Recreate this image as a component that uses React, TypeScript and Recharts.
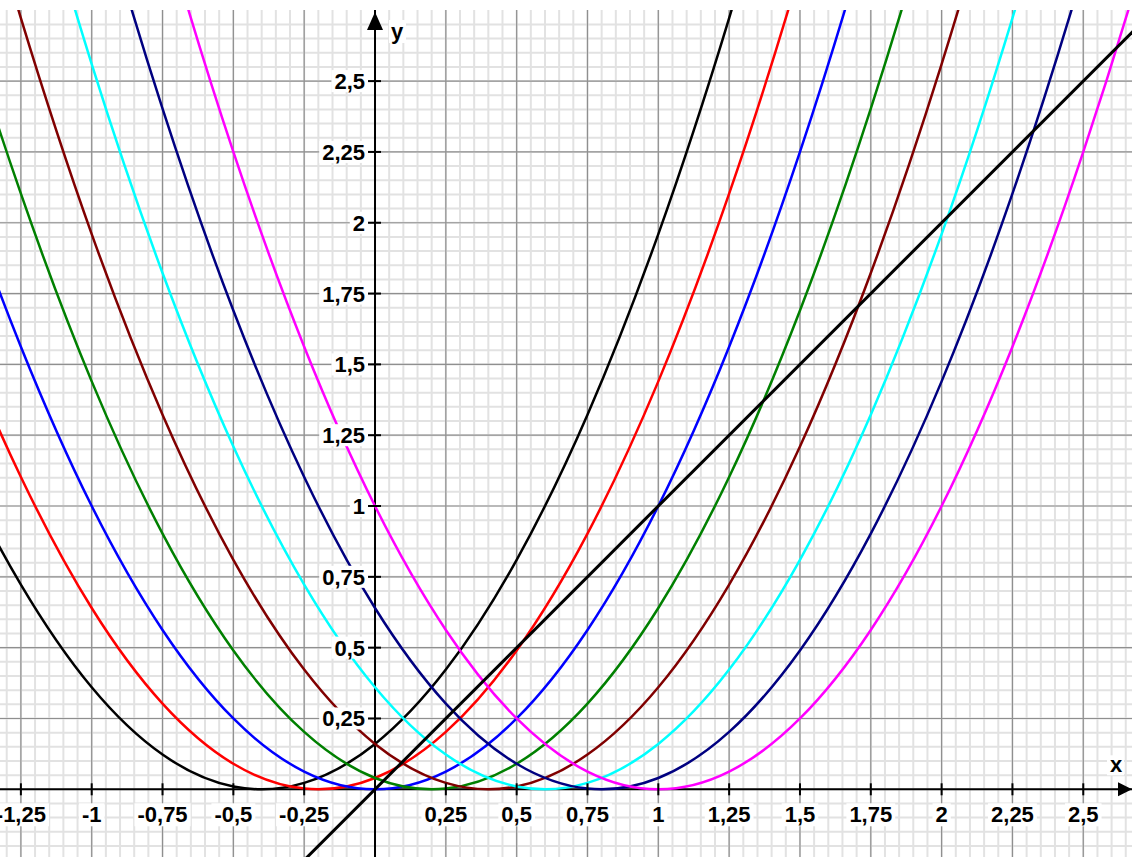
import React from "react";
import { LineChart, Line, XAxis, YAxis, ReferenceLine, ReferenceDot } from "recharts";

// sample positions shared by every parabola
const xs = [-1.75, -1.5, -1.25, -1, -0.75, -0.5, -0.25, 0, 0.25, 0.5, 0.75, 1, 1.25, 1.5, 1.75, 2, 2.25, 2.5, 2.75, 3];

const blackCurve = [1.8225, 1.21, 0.7225, 0.36, 0.1225, 0.01, 0.0225, 0.16, 0.4225, 0.81, 1.3225, 1.96, 2.7225, 3.61, 4.6225, 5.76, 7.0225, 8.41, 9.9225, 11.56];
const redCurve = [2.4025, 1.69, 1.1025, 0.64, 0.3025, 0.09, 0.0025, 0.04, 0.2025, 0.49, 0.9025, 1.44, 2.1025, 2.89, 3.8025, 4.84, 6.0025, 7.29, 8.7025, 10.24];
const blueCurve = [3.0625, 2.25, 1.5625, 1, 0.5625, 0.25, 0.0625, 0, 0.0625, 0.25, 0.5625, 1, 1.5625, 2.25, 3.0625, 4, 5.0625, 6.25, 7.5625, 9];
const greenCurve = [3.8025, 2.89, 2.1025, 1.44, 0.9025, 0.49, 0.2025, 0.04, 0.0025, 0.09, 0.3025, 0.64, 1.1025, 1.69, 2.4025, 3.24, 4.2025, 5.29, 6.5025, 7.84];
const brownCurve = [4.6225, 3.61, 2.7225, 1.96, 1.3225, 0.81, 0.4225, 0.16, 0.0225, 0.01, 0.1225, 0.36, 0.7225, 1.21, 1.8225, 2.56, 3.4225, 4.41, 5.5225, 6.76];
const cyanCurve = [5.5225, 4.41, 3.4225, 2.56, 1.8225, 1.21, 0.7225, 0.36, 0.1225, 0.01, 0.0225, 0.16, 0.4225, 0.81, 1.3225, 1.96, 2.7225, 3.61, 4.6225, 5.76];
const navyCurve = [6.5025, 5.29, 4.2025, 3.24, 2.4025, 1.69, 1.1025, 0.64, 0.3025, 0.09, 0.0025, 0.04, 0.2025, 0.49, 0.9025, 1.44, 2.1025, 2.89, 3.8025, 4.84];
const magentaCurve = [7.5625, 6.25, 5.0625, 4, 3.0625, 2.25, 1.5625, 1, 0.5625, 0.25, 0.0625, 0, 0.0625, 0.25, 0.5625, 1, 1.5625, 2.25, 3.0625, 4];

// the straight line y = x
const diagX = [-0.5, 3];
const diagY = [-0.5, 3];

const xTicks = [-1.25, -1, -0.75, -0.5, -0.25, 0.25, 0.5, 0.75, 1, 1.25, 1.5, 1.75, 2, 2.25, 2.5];
const yTicks = [0.25, 0.5, 0.75, 1, 1.25, 1.5, 1.75, 2, 2.25, 2.5];

const X_DOMAIN = [-1.3237, 2.672];
const Y_DOMAIN = [-0.239, 2.751];

const series = [
  { name: "a1", color: "#000000", ys: blackCurve },
  { name: "a2", color: "#ff0000", ys: redCurve },
  { name: "a3", color: "#0000ff", ys: blueCurve },
  { name: "a4", color: "#008000", ys: greenCurve },
  { name: "a5", color: "#800000", ys: brownCurve },
  { name: "a6", color: "#00ffff", ys: cyanCurve },
  { name: "a7", color: "#000080", ys: navyCurve },
  { name: "a8", color: "#ff00ff", ys: magentaCurve },
];

const stepValues = (from: number, to: number, step: number) => {
  const out: number[] = [];
  for (let i = Math.round(from / step); i <= Math.round(to / step); i++) out.push(Math.round(i * step * 100) / 100);
  return out;
};
const minorX = stepValues(-1.3, 2.65, 0.05);
const minorY = stepValues(-0.2, 2.7, 0.05);
const majorX = stepValues(-1.25, 2.5, 0.25).filter(v => v !== 0);
const majorY = stepValues(-0.25, 2.5, 0.25).filter(v => v !== 0);

const FONT = "'Liberation Sans', Arial, sans-serif";
const FS = 22;
const fmt = (v: number) => String(v).replace(".", ",");
const textWidth = (s: string) =>
  s.split("").reduce((w, c) => w + (c === "," ? 0.278 : c === "-" ? 0.333 : 0.556), 0) * FS;

function XTickLabel(props: any) {
  const { cx, cy, value } = props;
  const s = fmt(value);
  const w = textWidth(s);
  return (
    <g>
      <line x1={cx} x2={cx} y1={cy - 6} y2={cy + 6} stroke="#000" strokeWidth={2} />
      <rect x={cx - w / 2 - 3} y={cy + 14} width={w + 6} height={23} fill="#fff" />
      <text x={cx} y={cy + 33} textAnchor="middle" fontFamily={FONT} fontWeight="bold" fontSize={FS} fill="#000">{s}</text>
    </g>
  );
}

function YTickLabel(props: any) {
  const { cx, cy, value } = props;
  const s = fmt(value);
  const w = textWidth(s);
  return (
    <g>
      <line x1={cx - 7} x2={cx + 6} y1={cy} y2={cy} stroke="#000" strokeWidth={2} />
      <rect x={cx - 10 - w - 3} y={cy - 11} width={w + 6} height={22} fill="#fff" />
      <text x={cx - 10} y={cy + 8} textAnchor="end" fontFamily={FONT} fontWeight="bold" fontSize={FS} fill="#000">{s}</text>
    </g>
  );
}

function XArrow(props: any) {
  const { cx, cy } = props;
  return (
    <g>
      <polygon points={`${cx},${cy} ${cx - 14},${cy - 7} ${cx - 14},${cy + 7}`} fill="#000" />
      <rect x={cx - 25} y={cy - 34} width={17} height={20} fill="#fff" />
      <text x={cx - 16} y={cy - 17} textAnchor="middle" fontFamily={FONT} fontWeight="bold" fontSize={FS} fill="#000">x</text>
    </g>
  );
}

function YArrow(props: any) {
  const { cx, cy } = props;
  const tip = cy + 2;
  return (
    <g>
      <polygon points={`${cx},${tip} ${cx - 8},${tip + 18} ${cx + 8},${tip + 18}`} fill="#000" />
      <rect x={cx + 14} y={tip + 8} width={17} height={23} fill="#fff" />
      <text x={cx + 22} y={tip + 27} textAnchor="middle" fontFamily={FONT} fontWeight="bold" fontSize={FS} fill="#000">y</text>
    </g>
  );
}

export default function App() {
  const curveData = series.map(s => ({ ...s, data: xs.map((x, i) => ({ x, y: s.ys[i] })) }));
  const diagData = diagX.map((x, i) => ({ x, y: diagY[i] }));

  return (
    <div style={{ position: "absolute", left: 0, top: 0, width: 1132, height: 857, background: "#fff", overflow: "hidden" }}>
      <LineChart width={1132} height={857} margin={{ top: 10, right: 0, bottom: 0, left: 0 }}>
        <XAxis type="number" dataKey="x" domain={X_DOMAIN} allowDataOverflow hide />
        <YAxis type="number" dataKey="y" domain={Y_DOMAIN} allowDataOverflow hide />

        {minorX.map(v => <ReferenceLine key={"mx" + v} x={v} stroke="#e2e2e2" strokeWidth={2} />)}
        {minorY.map(v => <ReferenceLine key={"my" + v} y={v} stroke="#e2e2e2" strokeWidth={2} />)}
        {majorX.map(v => <ReferenceLine key={"Mx" + v} x={v} stroke="#8f8f8f" strokeWidth={1.2} />)}
        {majorY.map(v => <ReferenceLine key={"My" + v} y={v} stroke="#8f8f8f" strokeWidth={1.2} />)}
        <ReferenceLine x={0} stroke="#000" strokeWidth={2} />
        <ReferenceLine y={0} stroke="#000" strokeWidth={2} />

        {xTicks.map(v => (
          <ReferenceDot key={"xt" + v} x={v} y={0} r={1} ifOverflow="visible" shape={(p: any) => <XTickLabel {...p} value={v} />} />
        ))}
        {yTicks.map(v => (
          <ReferenceDot key={"yt" + v} x={0} y={v} r={1} ifOverflow="visible" shape={(p: any) => <YTickLabel {...p} value={v} />} />
        ))}
        <ReferenceDot x={X_DOMAIN[1]} y={0} r={1} ifOverflow="visible" shape={(p: any) => <XArrow {...p} />} />
        <ReferenceDot x={0} y={Y_DOMAIN[1]} r={1} ifOverflow="visible" shape={(p: any) => <YArrow {...p} />} />

        {curveData.map(s => (
          <Line key={s.name} data={s.data} dataKey="y" type="natural" stroke={s.color} strokeWidth={2.5} dot={false} activeDot={false} isAnimationActive={false} />
        ))}
        <Line data={diagData} dataKey="y" type="linear" stroke="#000" strokeWidth={3} dot={false} activeDot={false} isAnimationActive={false} />
      </LineChart>
    </div>
  );
}
